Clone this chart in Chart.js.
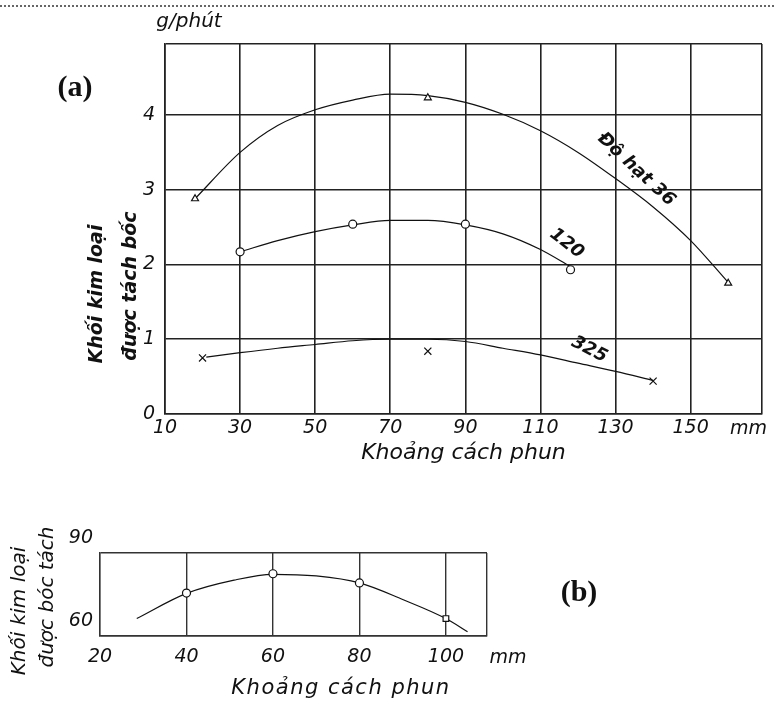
<!DOCTYPE html>
<html>
<head>
<meta charset="utf-8">
<script src="https://cdn.jsdelivr.net/npm/chart.js@4.4.0/dist/chart.umd.min.js"></script>
<style>
  html, body { margin: 0; padding: 0; background: #fff; }
  body { width: 774px; height: 724px; position: relative; overflow: hidden; }
  canvas { position: absolute; left: 0; }
  #chartA { top: 0; }
  #chartB { top: 470px; }
  .topline { position: absolute; left: 0; top: 5px; width: 774px; border-top: 2px dotted #666; }
  .txt { position: absolute; white-space: nowrap; color: #111; font-family: "DejaVu Sans", sans-serif; font-style: italic; transform: translate(-50%, -50%); line-height: 1; }
  .vert { transform: translate(-50%, -50%) rotate(-90deg); }
  .tag { font-family: "Liberation Serif", serif; font-style: normal; font-weight: bold; font-size: 30px; }
</style>
</head>
<body>
<div class="topline"></div>
<canvas id="chartA" width="774" height="470"></canvas>
<canvas id="chartB" width="774" height="254"></canvas>

<div class="txt tag" style="left:75px; top:86px;">(a)</div>
<div class="txt" style="left:189px; top:20px; font-size:20px;">g/phút</div>
<div class="txt vert" style="left:95px; top:294px; font-size:19px; font-weight:bold;">Khối kim loại</div>
<div class="txt vert" style="left:129px; top:286px; font-size:19px; font-weight:bold;">được tách bốc</div>
<div class="txt" style="left:730px; top:427px; font-size:19px; transform: translate(0, -50%);">mm</div>

<div class="txt tag" style="left:579px; top:591px;">(b)</div>
<div class="txt vert" style="left:18px; top:611px; font-size:20px;">Khối kim loại</div>
<div class="txt vert" style="left:46px; top:597px; font-size:20px;">được bóc tách</div>
<div class="txt" style="left:508px; top:656px; font-size:19px;">mm</div>
<div class="txt" style="left:341px; top:687px; font-size:21px; letter-spacing:1.5px;">Khoảng cách phun</div>

<script>
// (a) khoảng cách phun (mm) vs khối lượng tách (g/phút)
const xTicksA = [10, 30, 50, 70, 90, 110, 130, 150];
const yTicksA = [0, 1, 2, 3, 4];

// độ hạt 36
const curve36X = [18, 30, 40, 50, 60, 70, 80, 90, 100, 110, 120, 130, 140, 150, 160];
const curve36Y = [2.88, 3.5, 3.86, 4.07, 4.2, 4.28, 4.26, 4.17, 4.01, 3.79, 3.5, 3.15, 2.77, 2.32, 1.76];
const mark36X = [18, 80, 160];
const mark36Y = [2.88, 4.23, 1.75];

// độ hạt 120
const curve120X = [30, 40, 50, 60, 70, 80, 90, 100, 110, 118];
const curve120Y = [2.17, 2.32, 2.44, 2.53, 2.59, 2.59, 2.53, 2.41, 2.2, 1.97];
const mark120X = [30, 60, 90, 118];
const mark120Y = [2.17, 2.54, 2.54, 1.93];

// độ hạt 325
const curve325X = [21, 30, 40, 50, 60, 70, 80, 90, 100, 110, 120, 130, 140];
const curve325Y = [0.76, 0.82, 0.88, 0.93, 0.98, 1.0, 1.0, 0.97, 0.88, 0.79, 0.68, 0.57, 0.45];
const mark325X = [20, 80, 140];
const mark325Y = [0.75, 0.84, 0.44];

// (b)
const xTicksB = [20, 40, 60, 80, 100];
const yTicksB = [60, 90];
const curveBX = [28.5, 40, 51, 60, 70, 80, 90, 100, 105];
const curveBY = [66.3, 75.4, 80.2, 82.3, 81.7, 79.2, 73.2, 66.3, 61.5];
const markBX = [40, 60, 80, 100];
const markBY = [75.5, 82.5, 79.2, 66.3];

const ink = '#111';
const gridInk = '#222';
Chart.defaults.font.family = '"DejaVu Sans", sans-serif';
Chart.defaults.color = ink;

function pts(xs, ys) {
    return xs.map((x, i) => ({ x: x, y: ys[i] }));
}

function curve(xs, ys) {
    return {
        data: pts(xs, ys),
        showLine: true,
        pointRadius: 0,
        borderColor: ink,
        borderWidth: 1.2,
        cubicInterpolationMode: 'monotone'
    };
}

function marks(xs, ys, style, r) {
    return {
        data: pts(xs, ys),
        showLine: false,
        pointStyle: style,
        pointRadius: r,
        pointBackgroundColor: '#fff',
        pointBorderColor: ink,
        pointBorderWidth: 1.2
    };
}

// rotated labels sitting next to the curves, placed in data units
const curveLabels = {
    id: 'curveLabels',
    afterDatasetsDraw(chart, args, opts) {
        const ctx = chart.ctx;
        const xs = chart.scales.x, ys = chart.scales.y;
        (opts.items || []).forEach(l => {
            ctx.save();
            ctx.translate(xs.getPixelForValue(l.x), ys.getPixelForValue(l.y));
            ctx.rotate(l.angle * Math.PI / 180);
            ctx.font = 'italic bold 18px "DejaVu Sans", sans-serif';
            ctx.fillStyle = ink;
            ctx.textAlign = 'center';
            ctx.textBaseline = 'middle';
            ctx.fillText(l.text, 0, 0);
            ctx.restore();
        });
    }
};

const tickFont = { size: 19, style: 'italic' };

new Chart(document.getElementById('chartA'), {
    type: 'scatter',
    data: {
        datasets: [
            marks(mark36X, mark36Y, 'triangle', 4),
            marks(mark120X, mark120Y, 'circle', 4),
            marks(mark325X, mark325Y, 'crossRot', 5),
            curve(curve36X, curve36Y),
            curve(curve120X, curve120Y),
            curve(curve325X, curve325Y)
        ]
    },
    plugins: [curveLabels],
    options: {
        responsive: false,
        animation: false,
        layout: { padding: { top: 44, right: 12, left: 0, bottom: 0 } },
        plugins: {
            legend: { display: false },
            tooltip: { enabled: false },
            curveLabels: {
                items: [
                    { text: 'Độ hạt 36', x: 135.5, y: 3.27, angle: 43 },
                    { text: '120', x: 117, y: 2.28, angle: 38 },
                    { text: '325', x: 123, y: 0.86, angle: 27 }
                ]
            }
        },
        scales: {
            x: {
                type: 'linear',
                min: 10,
                max: 169,
                afterFit: s => { s.height = 56; },
                afterBuildTicks: s => {
                    s.ticks = xTicksA.map(v => ({ value: v })).concat([{ value: 169 }]);
                },
                grid: { color: gridInk, lineWidth: 1.6, drawTicks: false },
                border: { color: gridInk, width: 1.6 },
                ticks: {
                    autoSkip: false,
                    maxRotation: 0,
                    padding: 3,
                    font: tickFont,
                    callback: v => xTicksA.includes(v) ? String(v) : ''
                },
                title: {
                    display: true,
                    text: 'Khoảng cách phun',
                    font: { size: 22, style: 'italic' },
                    padding: { top: 2, bottom: 4 }
                }
            },
            y: {
                type: 'linear',
                min: 0,
                max: 4.95,
                afterFit: s => { s.width = 165; },
                afterBuildTicks: s => {
                    s.ticks = yTicksA.map(v => ({ value: v })).concat([{ value: 4.95 }]);
                },
                grid: { color: gridInk, lineWidth: 1.6, drawTicks: false },
                border: { color: gridInk, width: 1.6 },
                ticks: {
                    padding: 10,
                    font: tickFont,
                    callback: v => yTicksA.includes(v) ? String(v) : ''
                }
            }
        }
    }
});

new Chart(document.getElementById('chartB'), {
    type: 'scatter',
    data: {
        datasets: [
            marks(markBX, markBY, ['circle', 'circle', 'circle', 'rect'], 4),
            curve(curveBX, curveBY)
        ]
    },
    options: {
        responsive: false,
        animation: false,
        layout: { padding: { top: 83, right: 287, left: 0, bottom: 0 } },
        plugins: {
            legend: { display: false },
            tooltip: { enabled: false }
        },
        scales: {
            x: {
                type: 'linear',
                min: 20,
                max: 109.5,
                afterFit: s => { s.height = 88; },
                afterBuildTicks: s => {
                    s.ticks = xTicksB.map(v => ({ value: v })).concat([{ value: 109.5 }]);
                },
                grid: { color: '#333', lineWidth: 1.4, drawTicks: false },
                border: { color: '#333', width: 1.4 },
                ticks: {
                    autoSkip: false,
                    maxRotation: 0,
                    padding: 10,
                    font: tickFont,
                    callback: v => xTicksB.includes(v) ? String(v) : ''
                }
            },
            y: {
                type: 'linear',
                min: 60,
                max: 90,
                afterFit: s => { s.width = 100; },
                afterBuildTicks: s => {
                    s.ticks = yTicksB.map(v => ({ value: v }));
                },
                grid: { color: '#333', lineWidth: 1.4, drawTicks: false },
                border: { color: '#333', width: 1.4 },
                ticks: {
                    padding: 7,
                    labelOffset: -15,
                    font: tickFont
                }
            }
        }
    }
});
</script>
</body>
</html>
